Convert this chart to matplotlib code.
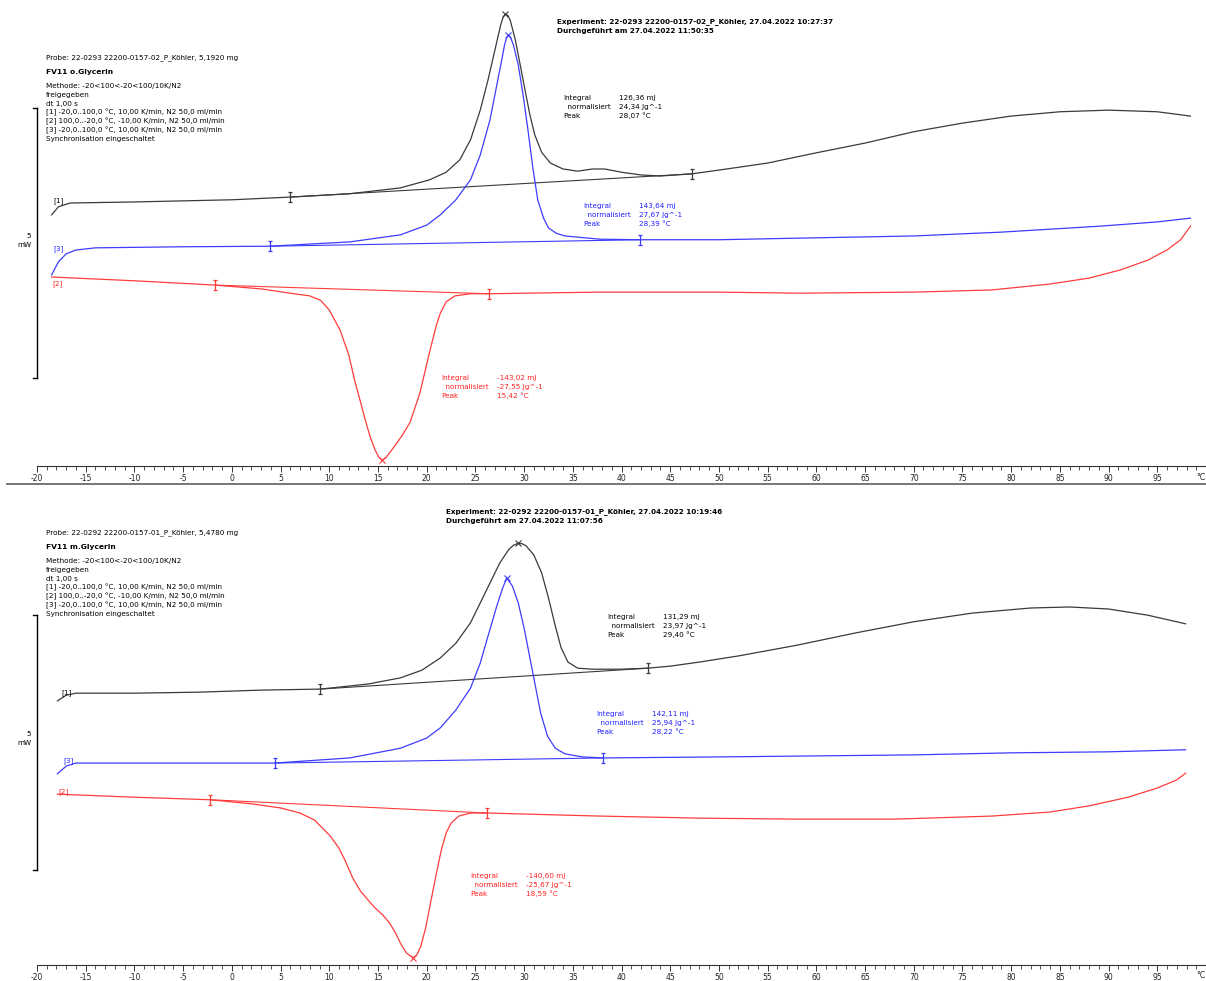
import matplotlib
matplotlib.use("Agg")
import matplotlib.pyplot as plt
from matplotlib.path import Path
from matplotlib.lines import Line2D
import numpy as np

# ---------------- data: top panel (FV11 o.Glycerin) ----------------
a_t1 = [-18.5, -17.8, -16.6, -10, 0, 6, 12, 17.3, 20.3, 22, 23.4, 24.5, 25.5, 26.3, 27, 27.6, 27.85, 28.07, 28.35,
        28.6, 29.1, 29.6, 30.1, 30.6, 31.1, 31.8, 32.7, 34, 35.5, 37, 38.3, 40, 42, 44, 47.2, 50, 55, 60, 65, 70,
        75, 80, 85, 90, 95, 98.4]
a_h1 = [4.65, 4.80, 4.87, 4.89, 4.93, 4.98, 5.04, 5.15, 5.30, 5.44, 5.67, 6.04, 6.59, 7.15, 7.70, 8.17, 8.31, 8.37,
        8.34, 8.24, 7.89, 7.43, 6.96, 6.50, 6.13, 5.81, 5.61, 5.50, 5.46, 5.50, 5.50, 5.44, 5.39, 5.37, 5.41, 5.48,
        5.61, 5.80, 5.98, 6.19, 6.35, 6.48, 6.56, 6.59, 6.56, 6.48]
a_t3 = [-18.5, -17.8, -17, -16, -14, -5, 3.9, 12.1, 17.3, 20, 21.4, 23, 24.5, 25.5, 26.5, 27.5, 28, 28.2, 28.39,
        28.6, 28.9, 29.4, 29.9, 30.4, 30.9, 31.4, 32, 32.5, 33.3, 34.2, 37.8, 41.9, 50, 58.3, 70, 78.9, 89, 95, 98.4]
a_h3 = [3.54, 3.78, 3.93, 4.00, 4.04, 4.06, 4.07, 4.15, 4.28, 4.46, 4.65, 4.93, 5.30, 5.76, 6.41, 7.33, 7.80, 7.93,
        7.98, 7.94, 7.80, 7.43, 6.87, 6.22, 5.52, 4.93, 4.59, 4.41, 4.31, 4.26, 4.20, 4.19, 4.19, 4.22, 4.26, 4.33,
        4.44, 4.52, 4.59]
a_t2 = [-18.5, -10, -1.7, 3, 6, 8, 9.1, 10, 11.1, 12, 12.6, 13.2, 13.7, 14.2, 14.7, 15.1, 15.42, 15.8, 16.3, 16.8,
        17.5, 18.3, 19.3, 20.3, 21, 21.4, 22, 22.9, 24.5, 26.4, 30, 37.8, 50, 58.3, 70, 78, 84, 88, 91.2, 94, 96,
        97.4, 98.4]
a_h2 = [3.50, 3.43, 3.35, 3.28, 3.20, 3.15, 3.07, 2.89, 2.52, 2.06, 1.59, 1.19, 0.85, 0.54, 0.30, 0.16, 0.11, 0.15,
        0.27, 0.39, 0.57, 0.81, 1.35, 2.11, 2.61, 2.83, 3.04, 3.15, 3.19, 3.19, 3.20, 3.22, 3.22, 3.20, 3.22, 3.26,
        3.37, 3.48, 3.63, 3.81, 4.00, 4.19, 4.44]
a_lim1 = [6.0, 47.2]
a_lim3 = [3.9, 41.9]
a_lim2 = [-1.7, 26.4]
a_peaks = [28.07, 28.39, 15.42]

# ---------------- data: bottom panel (FV11 m.Glycerin) ----------------
b_t1 = [-17.9, -17, -16, -10, -3.3, 3, 9.1, 14, 17.3, 19.5, 21.4, 23, 24.5, 25.5, 26.5, 27.5, 28.4, 28.9, 29.4,
        29.8, 30.2, 31, 31.8, 32.5, 33.2, 33.8, 34.5, 35.5, 37, 40, 42.7, 45, 48, 52, 58, 64, 70, 76, 82, 86, 90,
        94, 97.9]
b_h1 = [5.18, 5.29, 5.33, 5.33, 5.35, 5.39, 5.41, 5.51, 5.63, 5.78, 6.02, 6.31, 6.71, 7.10, 7.49, 7.88, 8.14, 8.23,
        8.27, 8.26, 8.22, 8.04, 7.69, 7.20, 6.65, 6.22, 5.94, 5.82, 5.80, 5.80, 5.82, 5.86, 5.94, 6.06, 6.27, 6.51,
        6.73, 6.90, 7.00, 7.02, 6.98, 6.86, 6.69]
b_t3 = [-17.9, -17, -16, -10, 4.4, 12.1, 17.3, 20, 21.4, 23, 24.5, 25.5, 26.3, 27.2, 27.8, 28.22, 28.8, 29.4, 30,
        30.6, 31.2, 31.7, 32.4, 33.2, 34.2, 36, 38.1, 50, 60, 70, 80, 90, 97.9]
b_h3 = [3.75, 3.90, 3.96, 3.96, 3.96, 4.06, 4.25, 4.45, 4.65, 5.00, 5.43, 5.92, 6.45, 7.04, 7.39, 7.59, 7.43, 7.10,
        6.61, 6.02, 5.43, 4.94, 4.49, 4.25, 4.14, 4.08, 4.06, 4.08, 4.10, 4.12, 4.16, 4.18, 4.22]
b_t2 = [-17.9, -10, -2.2, 2, 5, 7, 8.5, 10.1, 11, 11.6, 12.4, 13.2, 14, 14.7, 15.5, 16.2, 16.8, 17.3, 17.9, 18.59,
        19, 19.4, 19.9, 20.4, 21, 21.5, 22, 22.5, 23.3, 24.5, 26.2, 30, 37.8, 48, 58, 68, 78, 84, 88, 92, 95, 97,
        97.9]
b_h2 = [3.35, 3.29, 3.24, 3.16, 3.08, 2.98, 2.84, 2.53, 2.29, 2.06, 1.71, 1.45, 1.27, 1.12, 0.98, 0.82, 0.63, 0.43,
        0.24, 0.14, 0.20, 0.37, 0.73, 1.22, 1.80, 2.25, 2.59, 2.78, 2.92, 2.98, 2.98, 2.96, 2.92, 2.88, 2.86, 2.86,
        2.92, 3.00, 3.12, 3.29, 3.47, 3.63, 3.76]
b_lim1 = [9.1, 42.7]
b_lim3 = [4.4, 38.1]
b_lim2 = [-2.2, 26.2]
b_peaks = [29.40, 28.22, 18.59]

x_ticks = list(range(-20, 100, 5))

# ---------------- texts ----------------
a_header = ["Experiment: 22-0293 22200-0157-02_P_Köhler, 27.04.2022 10:27:37",
            "Durchgeführt am 27.04.2022 11:50:35"]
b_header = ["Experiment: 22-0292 22200-0157-01_P_Köhler, 27.04.2022 10:19:46",
            "Durchgeführt am 27.04.2022 11:07:56"]
a_probe = "Probe: 22-0293 22200-0157-02_P_Köhler, 5,1920 mg"
b_probe = "Probe: 22-0292 22200-0157-01_P_Köhler, 5,4780 mg"
a_name = "FV11 o.Glycerin"
b_name = "FV11 m.Glycerin"
method_lines = ["Methode: -20<100<-20<100/10K/N2", "freigegeben", "dt 1,00 s",
                "[1] -20,0..100,0 °C, 10,00 K/min, N2 50,0 ml/min",
                "[2] 100,0..-20,0 °C, -10,00 K/min, N2 50,0 ml/min",
                "[3] -20,0..100,0 °C, 10,00 K/min, N2 50,0 ml/min",
                "Synchronisation eingeschaltet"]
ann_keys = ["Integral", "  normalisiert", "Peak"]
a_ann1 = ["126,36 mJ", "24,34 Jg^-1", "28,07 °C"]
a_ann3 = ["143,64 mJ", "27,67 Jg^-1", "28,39 °C"]
a_ann2 = ["-143,02 mJ", "-27,55 Jg^-1", "15,42 °C"]
b_ann1 = ["131,29 mJ", "23,97 Jg^-1", "29,40 °C"]
b_ann3 = ["142,11 mJ", "25,94 Jg^-1", "28,22 °C"]
b_ann2 = ["-140,60 mJ", "-25,67 Jg^-1", "18,59 °C"]

# ---------------- styling ----------------
W, H = 1206, 981
C1, C3, C2 = "#3a3a3a", "#3c3cff", "#ff3c3c"
T1, T3, T2 = "#000000", "#2020ff", "#ff2020"
FS = 5.2

plt.rcParams['font.family'] = ['DejaVu Sans']
plt.rcParams['axes.unicode_minus'] = False
fig = plt.figure(figsize=(W / 100, H / 100), dpi=100)

lim_marker = Path([(0, -1), (0, 1), (-0.45, 1), (0.45, 1), (-0.45, -1), (0.45, -1)],
                  [Path.MOVETO, Path.LINETO, Path.MOVETO, Path.LINETO, Path.MOVETO, Path.LINETO])


def ftext(x, y, s, **kw):
    kw.setdefault("fontsize", FS)
    kw.setdefault("va", "center")
    fig.text(x / W, 1 - y / H, s, **kw)


def make_axes(ybottom, ytop, kpx):
    ax = fig.add_axes([37 / W, 1 - ybottom / H, (W - 37) / W, (ybottom - ytop) / H])
    ax.set_xlim(-20, 100)
    ax.set_ylim(0, (ybottom - ytop) / kpx)
    for s in ["top", "left", "right"]:
        ax.spines[s].set_visible(False)
    ax.spines["bottom"].set_linewidth(0.8)
    ax.spines["bottom"].set_color("#333333")
    ax.set_yticks([])
    ax.set_xticks(x_ticks)
    ax.set_xticks(range(-20, 100), minor=True)
    ax.tick_params(axis="x", which="major", direction="out", length=4, width=0.7, labelsize=5.5, pad=1.5,
                   color="#333333", labelcolor="#222222")
    ax.tick_params(axis="x", which="minor", direction="out", length=3, width=0.6, color="#333333")
    ax.patch.set_alpha(0)
    ftext(W - 1, ybottom + 11, "°C", fontsize=5.5, ha="right", color="#222222")
    return ax


def draw_curve(ax, t, h, lims, peak, col):
    ax.plot(t, h, color=col, lw=0.9, clip_on=False, solid_joinstyle="round")
    yl = np.interp(lims, t, h)
    ax.plot(lims, yl, color=col, lw=0.8, clip_on=False)
    ax.plot(lims, yl, linestyle="none", marker=lim_marker, markersize=7, markeredgewidth=0.9,
            color=col, clip_on=False)
    ax.plot([peak], [np.interp(peak, t, h)], linestyle="none", marker="x", markersize=5,
            markeredgewidth=0.8, color=col, clip_on=False)


def scale_bar(ax, y0, y1):
    ax.plot([-20, -20], [y0, y1], color="black", lw=1.0, clip_on=False)
    for y in (y0, y1):
        ax.plot([-20.45, -20], [y, y], color="black", lw=1.0, clip_on=False)


def annotation(x, y, vals, col):
    for i, (k, v) in enumerate(zip(ann_keys, vals)):
        ftext(x, y + i * 9, k, color=col)
        ftext(x + 56, y + i * 9, v, color=col)


def info_block(y, probe, name):
    ftext(46, y, probe)
    ftext(46, y + 14, name, fontweight="bold", fontsize=5.4)
    for i, s in enumerate(method_lines):
        ftext(46, y + 28 + i * 8.9, s)


# ---------------- top panel ----------------
axA = make_axes(466, 0, 54)
draw_curve(axA, a_t1, a_h1, a_lim1, a_peaks[0], C1)
draw_curve(axA, a_t3, a_h3, a_lim3, a_peaks[1], C3)
draw_curve(axA, a_t2, a_h2, a_lim2, a_peaks[2], C2)
scale_bar(axA, (466 - 378) / 54, (466 - 108) / 54)

ftext(557, 22, a_header[0], fontweight="bold")
ftext(557, 31, a_header[1], fontweight="bold")
info_block(58, a_probe, a_name)
ftext(31, 236, "5", ha="right")
ftext(31, 245, "mW", ha="right")
ftext(53, 201, "[1]", color=T1)
ftext(53, 249, "[3]", color=T3)
ftext(52, 284, "[2]", color=T2)
annotation(563, 98, a_ann1, T1)
annotation(583, 206, a_ann3, T3)
annotation(441, 378, a_ann2, T2)

# separator
fig.add_artist(Line2D([7 / W, 1], [1 - 484 / H, 1 - 484 / H], color="#777777", lw=1.4))

# ---------------- bottom panel ----------------
axB = make_axes(965, 490, 51)
draw_curve(axB, b_t1, b_h1, b_lim1, b_peaks[0], C1)
draw_curve(axB, b_t3, b_h3, b_lim3, b_peaks[1], C3)
draw_curve(axB, b_t2, b_h2, b_lim2, b_peaks[2], C2)
scale_bar(axB, (965 - 870) / 51, (965 - 615) / 51)

ftext(446, 512, b_header[0], fontweight="bold")
ftext(446, 521, b_header[1], fontweight="bold")
info_block(533, b_probe, b_name)
ftext(31, 734, "5", ha="right")
ftext(31, 743, "mW", ha="right")
ftext(61, 693, "[1]", color=T1)
ftext(63, 761, "[3]", color=T3)
ftext(58, 792, "[2]", color=T2)
annotation(607, 617, b_ann1, T1)
annotation(596, 714, b_ann3, T3)
annotation(470, 876, b_ann2, T2)

fig.savefig("out.png", dpi=100)
